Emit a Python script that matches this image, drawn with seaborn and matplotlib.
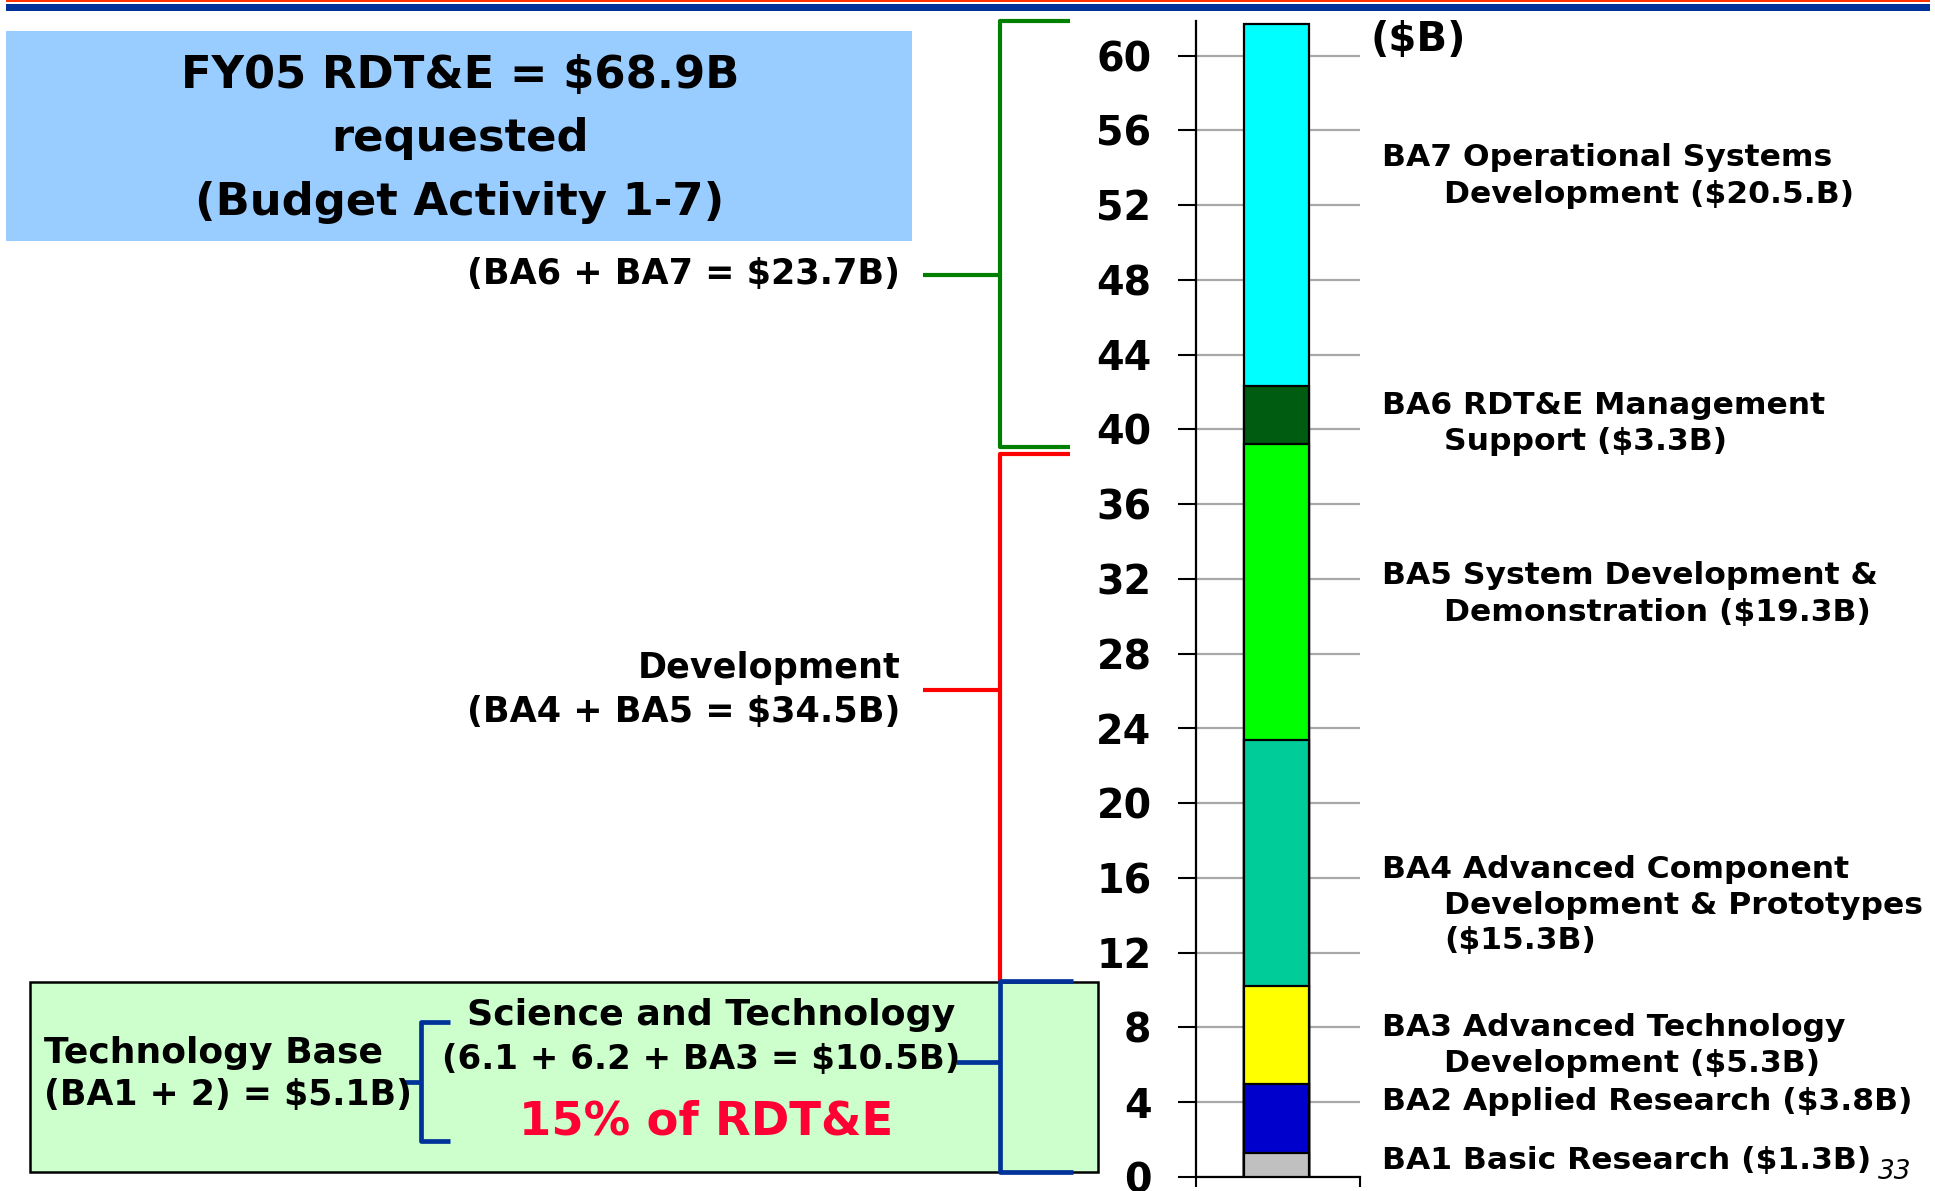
import matplotlib
matplotlib.use("Agg")
import matplotlib.pyplot as plt
from matplotlib.lines import Line2D
from matplotlib.patches import Rectangle
import seaborn as sns
import pandas as pd
import numpy as np

# ---------------- data ----------------
segments = ["BA1", "BA2", "BA3", "BA4", "BA5", "BA6", "BA7"]
# segment heights as drawn on the chart ($B)
heights = [1.3, 3.7, 5.2, 13.2, 15.8, 3.1, 19.4]
colors = ["#C0C0C0", "#0000CC", "#FFFF00", "#00CC99", "#00FF00", "#005C10", "#00FFFF"]
category = ["FY05"]
y_ticks = list(range(0, 61, 4))

right_labels = [
    ["BA7 Operational Systems", "Development ($20.5.B)"],
    ["BA6 RDT&E Management", "Support ($3.3B)"],
    ["BA5 System Development &", "Demonstration ($19.3B)"],
    ["BA4 Advanced Component", "Development & Prototypes", "($15.3B)"],
    ["BA3 Advanced Technology", "Development ($5.3B)"],
    ["BA2 Applied Research ($3.8B)"],
    ["BA1 Basic Research ($1.3B)"],
]
title_lines = ["FY05 RDT&E = $68.9B", "requested", "(Budget Activity 1-7)"]

# ---------------- setup ----------------
sns.set_theme(style="white")
plt.rcParams["font.family"] = ["DejaVu Sans"]
plt.rcParams["text.color"] = "black"
plt.rcParams["axes.labelcolor"] = "black"
plt.rcParams["xtick.color"] = "black"
plt.rcParams["ytick.color"] = "black"
W, H = 1935, 1191
fig = plt.figure(figsize=(W / 100, H / 100), dpi=100)


def fx(x):
    return x / W


def fy(y):
    return 1 - y / H


def fline(xs, ys, color, lw=3.0):
    fig.add_artist(Line2D([fx(v) for v in xs], [fy(v) for v in ys],
                          transform=fig.transFigure, color=color, lw=lw,
                          solid_capstyle="butt"))


# axes placement
ax_left, ax_right, ax_top, ax_bot = 1196, 1360, 21, 1177
ax = fig.add_axes([fx(ax_left), fy(ax_bot), (ax_right - ax_left) / W, (ax_bot - ax_top) / H])

df = pd.DataFrame({"segment": segments, "value": heights, "color": colors})
df["cum"] = df["value"].cumsum()
df["cat"] = category[0]

# stacked bar: draw cumulative totals from the top segment down
for i in range(len(df) - 1, -1, -1):
    row = df.iloc[[i]]
    sns.barplot(data=row, x="cat", y="cum", color=row["color"].iloc[0],
                saturation=1, width=0.4, edgecolor="black", linewidth=1.6,
                errorbar=None, ax=ax, zorder=3)

ax.set_xlim(-0.49, 0.51)
ax.set_ylim(0, 61.85)
ax.set_yticks(y_ticks)
ax.set_yticklabels([str(t) for t in y_ticks], fontsize=28.5, fontweight="bold", color="black")
ax.set_xticks([-0.49, 0.51])
ax.set_xticklabels(["", ""])
ax.set_xlabel("")
ax.set_ylabel("")
ax.tick_params(axis="y", direction="out", length=13, width=1.5, pad=19, colors="black", left=True)
ax.tick_params(axis="x", direction="out", length=7, width=1.5, bottom=True, colors="black")
ax.yaxis.grid(True, color="#A8A8A8", lw=1.6)
ax.xaxis.grid(False)
ax.set_axisbelow(True)
for s in ["top", "right"]:
    ax.spines[s].set_visible(False)
for s in ["left", "bottom"]:
    ax.spines[s].set_color("black")
    ax.spines[s].set_linewidth(1.6)
ax.patch.set_alpha(0)

# ($B)
fig.text(fx(1370), fy(40), "($B)", fontsize=29, fontweight="bold", va="center", ha="left")

# right-hand labels
label_y = [[158, 194], [405, 441], [576, 612], [869, 905, 940], [1028, 1064], [1102], [1160]]
for lines, ys in zip(right_labels, label_y):
    for j, (t, y) in enumerate(zip(lines, ys)):
        fig.text(fx(1382 if j == 0 else 1444), fy(y), t, fontsize=22.6,
                 fontweight="bold", va="center", ha="left")
fig.text(fx(1878), fy(1172), "33", fontsize=19, fontstyle="italic", va="center", ha="left")

# top rules
fig.add_artist(Rectangle((fx(6), fy(2)), fx(1924), 1.8 / H, transform=fig.transFigure,
                         color="#FF3300", lw=0))
fig.add_artist(Rectangle((fx(6), fy(11)), fx(1924), 7 / H, transform=fig.transFigure,
                         color="#003399", lw=0))

# title box
fig.add_artist(Rectangle((fx(6), fy(241)), fx(906), (241 - 31) / H, transform=fig.transFigure,
                         facecolor="#99CCFF", lw=0, zorder=0))
for t, y in zip(title_lines, [75, 139, 202]):
    fig.text(fx(460), fy(y), t, fontsize=32.3, fontweight="bold", ha="center", va="center")

# green S&T box
fig.add_artist(Rectangle((fx(30), fy(1172)), fx(1068), (1172 - 982) / H, transform=fig.transFigure,
                         facecolor="#CCFFCC", edgecolor="black", lw=1.8, zorder=0))

# brackets
green, red, blue = "#008000", "#FF0000", "#003399"
fline([1070, 1000, 1000, 1070], [21, 21, 447, 447], green)
fline([923, 1000], [275, 275], green)
fline([1070, 1000, 1000], [454, 454, 981], red)
fline([923, 1000], [690, 690], red)
fline([1073, 1000, 1000, 1073], [981, 981, 1172, 1172], blue, lw=3.4)
fline([956, 1000], [1062, 1062], blue, lw=3.4)
fline([450, 421, 421, 450], [1022, 1022, 1141, 1141], blue, lw=3.4)
fline([403, 421], [1082, 1082], blue, lw=3.4)

# left labels
fig.text(fx(900), fy(274), "(BA6 + BA7 = $23.7B)", fontsize=25.2, fontweight="bold", ha="right", va="center")
fig.text(fx(900), fy(668), "Development", fontsize=25.2, fontweight="bold", ha="right", va="center")
fig.text(fx(900), fy(712), "(BA4 + BA5 = $34.5B)", fontsize=25.2, fontweight="bold", ha="right", va="center")

# S&T texts
fig.text(fx(44), fy(1053), "Technology Base", fontsize=26, fontweight="bold", ha="left", va="center")
fig.text(fx(44), fy(1095), "(BA1 + 2) = $5.1B)", fontsize=25, fontweight="bold", ha="left", va="center")
fig.text(fx(711), fy(1015), "Science and Technology", fontsize=26.2, fontweight="bold", ha="center", va="center")
fig.text(fx(701), fy(1060), "(6.1 + 6.2 + BA3 = $10.5B)", fontsize=24.5, fontweight="bold", ha="center", va="center")
fig.text(fx(706), fy(1122), "15% of RDT&E", fontsize=33.5, fontweight="bold", color="#FF0033", ha="center", va="center")

fig.savefig("out.png", dpi=100)
